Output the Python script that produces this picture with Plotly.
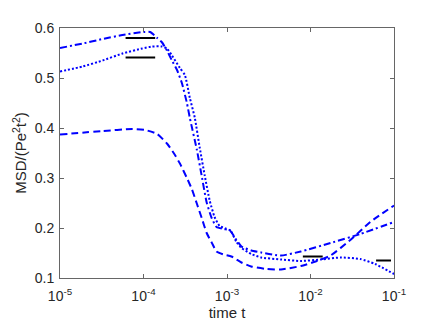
import plotly.graph_objects as go

# time points and MSD/(Pe^2 t^2) values, one set per curve
t_dashed = [1e-5, 3.24e-5, 7.35e-5, 1.05e-4, 1.46e-4, 1.91e-4, 2.32e-4, 2.73e-4,
            3.31e-4, 3.79e-4, 4.35e-4, 4.98e-4, 5.71e-4, 6.55e-4, 7.5e-4,
            9.08e-4, 1.13e-3, 1.49e-3, 1.95e-3, 2.94e-3, 4.43e-3, 7.66e-3,
            1.15e-2, 1.74e-2, 3.0e-2, 5.19e-2, 1e-1]
msd_dashed = [0.387, 0.394, 0.398, 0.396, 0.388, 0.369, 0.349, 0.329,
              0.300, 0.278, 0.249, 0.220, 0.190, 0.171, 0.153,
              0.147, 0.143, 0.131, 0.123, 0.118, 0.117, 0.124,
              0.133, 0.145, 0.176, 0.212, 0.245]

t_dotted = [1e-5, 1.87e-5, 3.24e-5, 5.60e-5, 9.66e-5, 1.27e-4, 1.67e-4, 1.91e-4,
            2.19e-4, 2.73e-4, 3.13e-4, 3.59e-4, 4.12e-4, 4.72e-4, 5.41e-4,
            6.20e-4, 7.10e-4, 8.15e-4, 9.60e-4, 1.10e-3, 1.30e-3, 1.49e-3,
            1.95e-3, 2.57e-3, 4.43e-3, 7.66e-3, 1.32e-2, 2.29e-2, 3.95e-2,
            5.95e-2, 1e-1]
msd_dotted = [0.513, 0.523, 0.535, 0.549, 0.559, 0.563, 0.563, 0.559,
              0.545, 0.520, 0.506, 0.460, 0.420, 0.360, 0.305,
              0.255, 0.222, 0.204, 0.199, 0.195, 0.172, 0.160,
              0.148, 0.141, 0.137, 0.134, 0.137, 0.141, 0.138,
              0.128, 0.108]

t_dashdot = [1e-5, 1.87e-5, 3.24e-5, 5.60e-5, 1e-4, 1.20e-4, 1.46e-4, 1.67e-4,
             1.91e-4, 2.19e-4, 2.52e-4, 2.88e-4, 3.31e-4, 3.59e-4, 4.35e-4,
             4.98e-4, 5.71e-4, 6.55e-4, 7.5e-4, 9.08e-4, 1.07e-3, 1.30e-3,
             1.49e-3, 1.95e-3, 2.57e-3, 4.43e-3, 7.66e-3, 1.74e-2, 3.95e-2, 1e-1]
msd_dashdot = [0.560, 0.569, 0.578, 0.586, 0.592, 0.592, 0.580, 0.571,
               0.555, 0.535, 0.516, 0.490, 0.450, 0.420, 0.357,
               0.304, 0.251, 0.220, 0.202, 0.198, 0.196, 0.176,
               0.163, 0.155, 0.151, 0.145, 0.153, 0.170, 0.188, 0.212]

# short black reference levels: (t start, t end, value)
ref_levels = [
    (6.1e-5, 1.38e-4, 0.580),
    (6.1e-5, 1.38e-4, 0.541),
    (8.1e-3, 1.4e-2, 0.143),
    (6.1e-2, 9.2e-2, 0.135),
]

tick_vals = [1e-5, 1e-4, 1e-3, 1e-2, 1e-1]
tick_text = ["10<sup>-5</sup>", "10<sup>-4</sup>", "10<sup>-3</sup>",
             "10<sup>-2</sup>", "10<sup>-1</sup>"]

BLUE = "#0000ff"

fig = go.Figure()

for t, y, dash in [
    (t_dashed, msd_dashed, "7px,4px"),
    (t_dotted, msd_dotted, "2px,2px"),
    (t_dashdot, msd_dashdot, "7px,3px,2px,3px"),
]:
    fig.add_trace(go.Scatter(
        x=t, y=y, mode="lines",
        line=dict(color=BLUE, width=2, dash=dash, shape="spline", smoothing=0.5),
        showlegend=False, hoverinfo="skip",
    ))

for t0, t1, lvl in ref_levels:
    fig.add_trace(go.Scatter(
        x=[t0, t1], y=[lvl, lvl], mode="lines",
        line=dict(color="black", width=2),
        showlegend=False, hoverinfo="skip",
    ))

axis_common = dict(
    showline=True, linecolor="#666666", linewidth=1,
    mirror="allticks", ticks="inside", ticklen=4, tickcolor="#666666",
    showgrid=False, zeroline=False,
    tickfont=dict(family="Liberation Sans, Arial, sans-serif", size=14, color="#262626"),
)

# the page keeps the browser's 8px body margin, so the figure is 8px smaller
# on each axis and the margins are trimmed to land the axes where they belong
fig.update_layout(
    width=428, height=319,
    paper_bgcolor="white", plot_bgcolor="white",
    margin=dict(l=49, r=42, t=16, b=48),
    font=dict(family="Liberation Sans, Arial, sans-serif", color="#262626"),
    xaxis=dict(
        type="log", range=[-5, -1],
        tickvals=tick_vals, ticktext=tick_text, ticklabelstandoff=5,
        title=dict(text="time t", font=dict(size=15), standoff=1),
        **axis_common,
    ),
    yaxis=dict(
        range=[0.1, 0.6], tickvals=[0.1, 0.2, 0.3, 0.4, 0.5, 0.6],
        tickformat=".1f", ticklabelstandoff=2,
        title=dict(text="MSD/(Pe<sup>2</sup>t<sup>2</sup>)", font=dict(size=15), standoff=4),
        **axis_common,
    ),
)

fig.write_html("out.html", config={"displayModeBar": False})
